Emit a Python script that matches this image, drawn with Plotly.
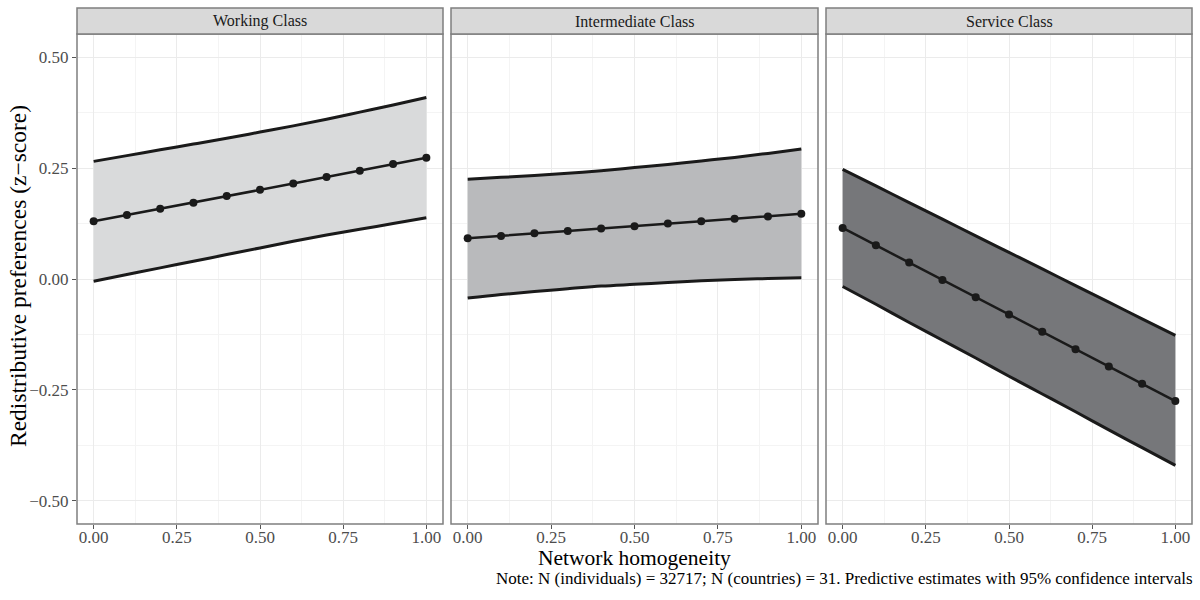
import plotly.graph_objects as go

x_vals = [0.0, 0.1, 0.2, 0.3, 0.4, 0.5, 0.6, 0.7, 0.8, 0.9, 1.0]
panels = ["Working Class", "Intermediate Class", "Service Class"]

working_mean = [0.130, 0.144, 0.158, 0.172, 0.187, 0.201, 0.215, 0.230, 0.244, 0.259, 0.273]
working_low = [-0.005, 0.010, 0.025, 0.040, 0.055, 0.070, 0.085, 0.099, 0.112, 0.125, 0.138]
working_high = [0.265, 0.278, 0.291, 0.304, 0.317, 0.331, 0.345, 0.360, 0.376, 0.392, 0.409]

inter_mean = [0.092, 0.097, 0.103, 0.108, 0.114, 0.119, 0.125, 0.130, 0.136, 0.141, 0.147]
inter_low = [-0.043, -0.035, -0.028, -0.022, -0.016, -0.012, -0.008, -0.004, -0.001, 0.001, 0.003]
inter_high = [0.225, 0.229, 0.233, 0.238, 0.244, 0.251, 0.258, 0.266, 0.274, 0.283, 0.293]

service_mean = [0.115, 0.076, 0.037, -0.002, -0.041, -0.080, -0.119, -0.158, -0.197, -0.236, -0.275]
service_low = [-0.017, -0.057, -0.098, -0.138, -0.178, -0.219, -0.259, -0.299, -0.340, -0.380, -0.420]
service_high = [0.247, 0.210, 0.172, 0.135, 0.097, 0.060, 0.023, -0.015, -0.052, -0.090, -0.127]

x_ticks = [0.0, 0.25, 0.5, 0.75, 1.0]
x_ticklabels = ["0.00", "0.25", "0.50", "0.75", "1.00"]
y_ticks = [-0.5, -0.25, 0.0, 0.25, 0.5]
y_ticklabels = ["\u22120.50", "\u22120.25", "0.00", "0.25", "0.50"]

fills = ["#d9dadb", "#b9babc", "#76777a"]
series = [
    (working_mean, working_low, working_high),
    (inter_mean, inter_low, inter_high),
    (service_mean, service_low, service_high),
]

FONT = "Liberation Serif"
W, H = 1200, 600
ml, mr, mt, mb = 77, 8, 8, 76
pw = W - ml - mr
ph = H - mt - mb
px_domains = [(77, 443), (451, 818), (826, 1192)]
strip_h = 26
ydom_top = (ph - strip_h) / ph

fig = go.Figure()
for i, (mean, low, high) in enumerate(series):
    xa = "x" if i == 0 else f"x{i+1}"
    ya = "y" if i == 0 else f"y{i+1}"
    fig.add_trace(go.Scatter(
        x=x_vals + x_vals[::-1], y=low + high[::-1], fill="toself",
        fillcolor=fills[i], line=dict(width=0), mode="lines",
        xaxis=xa, yaxis=ya, showlegend=False, hoverinfo="skip"))
    for b in (low, high):
        fig.add_trace(go.Scatter(
            x=x_vals, y=b, mode="lines", line=dict(color="#1a1a1a", width=3, shape="spline"),
            xaxis=xa, yaxis=ya, showlegend=False))
    fig.add_trace(go.Scatter(
        x=x_vals, y=mean, mode="lines+markers",
        line=dict(color="#1a1a1a", width=2.5),
        marker=dict(color="#1a1a1a", size=8),
        xaxis=xa, yaxis=ya, showlegend=False))

layout = dict(
    width=W, height=H,
    margin=dict(l=ml, r=mr, t=mt, b=mb),
    paper_bgcolor="white", plot_bgcolor="white",
    font=dict(family=FONT, color="#4d4d4d"),
    showlegend=False,
)

shapes = []
annotations = []
for i in range(3):
    sfx = "" if i == 0 else str(i + 1)
    d0 = (px_domains[i][0] - ml) / pw
    d1 = (px_domains[i][1] - ml) / pw
    layout["xaxis" + sfx] = dict(
        domain=[d0, d1], range=[-0.05, 1.05],
        tickvals=x_ticks, ticktext=x_ticklabels,
        ticks="outside", ticklen=4, tickcolor="#555555",
        ticklabelstandoff=-6,
        tickfont=dict(family=FONT, size=17, color="#4d4d4d"),
        showgrid=True, gridcolor="#ebebeb", gridwidth=1.2,
        minor=dict(tickvals=[0.125, 0.375, 0.625, 0.875], showgrid=True,
                   gridcolor="#f4f4f4", gridwidth=0.8),
        zeroline=False, showline=False,
        anchor="y" + sfx,
    )
    layout["yaxis" + sfx] = dict(
        domain=[0, ydom_top], range=[-0.552, 0.552],
        tickvals=y_ticks, ticktext=y_ticklabels,
        showticklabels=(i == 0),
        ticks="outside" if i == 0 else "", ticklen=4, tickcolor="#555555",
        tickfont=dict(family=FONT, size=17, color="#4d4d4d"),
        showgrid=True, gridcolor="#ebebeb", gridwidth=1.2,
        minor=dict(tickvals=[-0.375, -0.125, 0.125, 0.375], showgrid=True,
                   gridcolor="#f4f4f4", gridwidth=0.8),
        zeroline=False, showline=False,
        anchor="x" + sfx,
    )
    xd = "x" + sfx + " domain"
    shapes.append(dict(type="rect", xref=xd, yref="paper", x0=0, x1=1, y0=0, y1=ydom_top,
                       line=dict(color="#7f7f7f", width=1.5), fillcolor="rgba(0,0,0,0)", layer="above"))
    shapes.append(dict(type="rect", xref=xd, yref="paper", x0=0, x1=1, y0=ydom_top, y1=1,
                       line=dict(color="#7f7f7f", width=1.5), fillcolor="#d9d9d9", layer="above"))
    annotations.append(dict(text=panels[i], xref=xd, yref="paper", x=0.5,
                            y=(ydom_top + 1) / 2, showarrow=False, yanchor="middle",
                            font=dict(family=FONT, size=16, color="#1a1a1a")))

annotations.append(dict(text="Redistributive preferences (z\u2212score)", textangle=-90,
                        xref="paper", yref="paper", x=(18 - ml) / pw, y=(H - mb - 276) / ph,
                        showarrow=False, xanchor="center", yanchor="middle",
                        font=dict(family=FONT, size=23.5, color="#000000")))
annotations.append(dict(text="Network homogeneity", xref="paper", yref="paper",
                        x=(634 - ml) / pw, y=(H - mb - 558) / ph, showarrow=False,
                        xanchor="center", yanchor="middle",
                        font=dict(family=FONT, size=21.5, color="#000000")))
annotations.append(dict(text="Note: N (individuals) = 32717; N (countries) = 31. Predictive estimates with 95% confidence intervals",
                        xref="paper", yref="paper", x=(1195 - ml) / pw, y=(H - mb - 578) / ph,
                        showarrow=False, xanchor="right", yanchor="middle",
                        font=dict(family=FONT, size=17, color="#000000")))

layout["shapes"] = shapes
layout["annotations"] = annotations
fig.update_layout(**layout)
fig.write_html("out.html", config={"displayModeBar": False},
               post_script="document.body.style.margin='0';")
